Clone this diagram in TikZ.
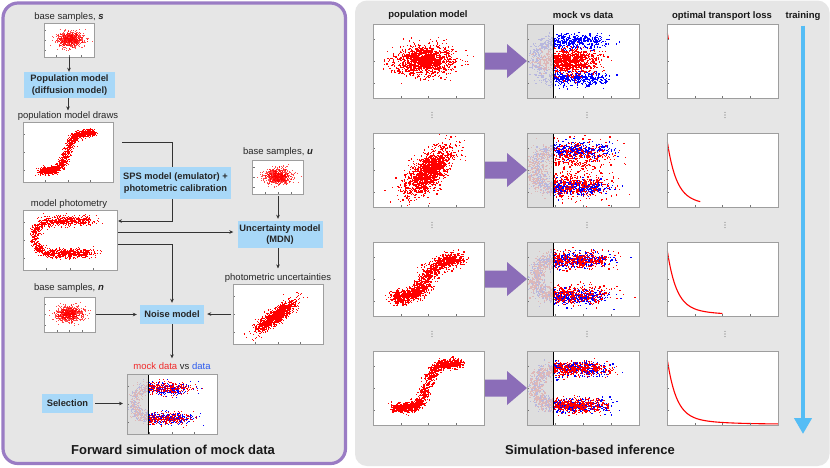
\documentclass[tikz,border=0pt]{standalone}
\usepackage{fontspec}
\setmainfont{Liberation Sans}
\usetikzlibrary{arrows.meta,calc}
\definecolor{panelgray}{HTML}{E6E6E6}
\definecolor{panelpurple}{HTML}{9A7CC4}
\definecolor{arrowpurple}{HTML}{8B6DB8}
\definecolor{boxblue}{HTML}{A8D8F8}
\definecolor{trainblue}{HTML}{55BDF5}
\definecolor{plotframe}{HTML}{9E9E9E}
\definecolor{ptred}{HTML}{FF0000}
\definecolor{ptblue}{HTML}{0000FF}
\definecolor{txtred}{HTML}{F02A2A}
\definecolor{txtblue}{HTML}{2B5BEF}
\definecolor{selgray}{HTML}{D9D9D9}
% ---------- random generators (set \myu, \myv in plot fractions, v downward)
\newcommand\setgauss[1]{\pgfmathsetmacro#1{sqrt(-2*ln(0.0008+0.9992*rnd))*cos(360*rnd)}}
\newcommand\genBlob[4]{%
  \setgauss\gA\setgauss\gB
  \pgfmathsetmacro\myu{#1+#3*\gA}%
  \pgfmathsetmacro\myv{#2+#4*\gB}}
\newcommand\genCorr[6]{%
  \setgauss\gA\setgauss\gB
  \pgfmathsetmacro\myu{#1+#3*\gA+#5*\gB}%
  \pgfmathsetmacro\myv{#2+#4*\gA+#6*\gB}}
\newcommand\genS[5]{%
  \setgauss\gA\setgauss\gB
  \pgfmathsetmacro\myt{rnd}%
  \pgfmathsetmacro\myu{0.2+0.58*\myt+#2*\gA}%
  \pgfmathsetmacro\myv{#4-(#4-#5)/(1+exp(-#1*(\myt-0.5)))+#3*\gB}}
\newcommand\genH[7]{%
  \setgauss\gA\setgauss\gB
  \pgfmathsetmacro\myr{rnd}%
  \pgfmathsetmacro\mysg{2*(rnd<0.5)-1}%
  \pgfmathsetmacro\myang{min(\myr/0.3,1)*90}%
  \pgfmathsetmacro\myu{#1+#2*(1-cos(\myang))+#5*max(\myr-0.3,0)/0.7+(#6)*(1+2*\myr)*\gA}%
  \pgfmathsetmacro\myv{#3+\mysg*#4*sin(\myang)+#7*\gB}}
% ---------- scatter into a plot node: chunks of 100 dots, one path per chunk
\newcommand\scat[7]{%
  \begin{scope}
    \clip (#1.south west) rectangle (#1.north east);
    \begin{scope}[shift={(#1.north west)},x=#2pt,y=-#3pt]
      \foreach \k in {1,...,#4}{%
        \draw[#5,line width=#6pt,line cap=rect] \foreach \i in {1,...,100}{\pgfextra{#7\global\let\gu\myu\global\let\gv\myv}
          (\gu,\gv) -- ++(0.02pt,0pt)};
      }
    \end{scope}
  \end{scope}}
\newcommand\plotticks[1]{%
  \foreach \f in {0.2,0.5,0.8}{\draw[tickc] ($(#1.north west)!\f!(#1.south west)$) -- ++(2,0);}
  \foreach \f in {0.25,0.5,0.75}{\draw[tickc] ($(#1.south west)!\f!(#1.south east)$) -- ++(0,-2);}}
\newcommand\frameit[1]{\draw[plotframe,line width=0.8pt] (#1.south west) rectangle (#1.north east);}
\newcommand\mockveil[1]{%
  \fill[selgray,opacity=0.85] (#1.north west) rectangle ($(#1.south west)!0.235!(#1.south east)$);
  \draw[black,line width=1.3pt] ($(#1.north west)!0.235!(#1.north east)$) -- ($(#1.south west)!0.235!(#1.south east)$);}
\newcommand\losscurve[2]{%
  \begin{scope}[shift={(#1.north west)},x=111pt,y=-74pt]
    \draw[ptred,line width=1.1pt] plot[domain=0.004:#2,samples=60,smooth] (\x,{0.09+0.78*(1-exp(-\x/0.08))+0.12*(1-exp(-\x/0.3))});
  \end{scope}}
\newcommand\vdotsmark[2]{%
  \foreach \dd in {-2.6,0,2.6}{\fill[black!60] (#1,#2+\dd) circle[radius=0.55pt];}}
\newcommand\mkrow[2]{%
  \node[plotbox,minimum width=111,minimum height=74] (pop#1) at (428.5,#2) {};
  \node[plotbox,minimum width=112,minimum height=74] (mock#1) at (583,#2) {};
  \node[plotbox,minimum width=111,minimum height=74] (loss#1) at (722.5,#2) {};
  \fill[arrowpurple] ($(pop#1.east)+(0,-8.5)$) -- ($(pop#1.east)+(23,-8.5)$) -- ($(pop#1.east)+(23,-17)$)
     -- (mock#1.west) -- ($(pop#1.east)+(23,17)$) -- ($(pop#1.east)+(23,8.5)$) -- ($(pop#1.east)+(0,8.5)$) -- cycle;}
\newcommand\finrow[1]{%
  \mockveil{mock#1}
  \plotticks{pop#1}\plotticks{mock#1}\plotticks{loss#1}
  \frameit{pop#1}\frameit{mock#1}\frameit{loss#1}}
\begin{document}
\begin{tikzpicture}[x=1pt,y=-1pt,
  plotbox/.style={draw=plotframe,line width=0.8pt,fill=white,inner sep=0pt,outer sep=0pt},
  procbox/.style={fill=boxblue,inner sep=0pt,align=center,font=\bfseries\fontsize{9.3}{11.5}\selectfont,text=black!85},
  lbl/.style={font=\fontsize{9.5}{11}\selectfont,inner sep=0pt,text=black!85},
  hdr/.style={font=\bfseries\fontsize{9.5}{11}\selectfont,inner sep=0pt,text=black!90},
  ttl/.style={font=\bfseries\fontsize{13}{15}\selectfont,inner sep=0pt,text=black!90},
  tickc/.style={draw=black!55,line width=0.4pt},
  conn/.style={line width=0.7pt,draw=black!80},
  arr/.style={conn,-{Stealth[length=4pt,width=3.6pt]}}]
\useasboundingbox (0,0) rectangle (830,467);
\fill[white] (0,0) rectangle (830,467);
% panels
\draw[panelpurple,line width=3.2pt,fill=panelgray,rounded corners=15pt] (3,3) rectangle (345.5,463.5);
\fill[panelgray,rounded corners=12pt] (355,0.5) rectangle (829.5,466);

% ================= LEFT PANEL =================
\node[lbl] (lps) at (69,17) {base samples, \textbf{\textit{s}}};
\node[plotbox,minimum width=50,minimum height=34] (ps) at (69,40) {};
\node[procbox,minimum width=91,minimum height=26] (popm) at (69.5,85) {Population model\\(diffusion model)};
\node[lbl] (lpd) at (68,116) {population model draws};
\node[plotbox,minimum width=90,minimum height=60] (pd) at (68,152) {};
\node[procbox,minimum width=111,minimum height=32] (sps) at (175.5,183) {SPS model (emulator) +\\photometric calibration};
\node[lbl] (lmp) at (69,204) {model photometry};
\node[plotbox,minimum width=94,minimum height=60] (mp) at (70,240) {};
\node[lbl] (lpu) at (278,152) {base samples, \textbf{\textit{u}}};
\node[plotbox,minimum width=51,minimum height=34] (pu) at (278,177) {};
\node[procbox,minimum width=85,minimum height=27] (unc) at (280,234.5) {Uncertainty model\\(MDN)};
\node[lbl] (lpunc) at (278,278) {photometric uncertainties};
\node[plotbox,minimum width=90,minimum height=60] (punc) at (278,314) {};
\node[lbl] (lpn) at (69,288) {base samples, \textbf{\textit{n}}};
\node[plotbox,minimum width=51,minimum height=35] (pn) at (69.5,314.5) {};
\node[procbox,minimum width=64,minimum height=19] (noise) at (172,314.5) {Noise model};
\node[lbl] (lmock) at (172,366) {\textcolor{txtred}{mock data} vs \textcolor{txtblue}{data}};
\node[plotbox,minimum width=90,minimum height=60] (pm) at (172,404) {};
\node[procbox,minimum width=51,minimum height=19] (sel) at (67.5,403.5) {Selection};
\node[ttl] (t1) at (173,450) {Forward simulation of mock data};

% scatter, left
\scat{ps}{50}{34}{8}{ptred,opacity=0.7}{0.72}{\genBlob{0.52}{0.48}{0.13}{0.11}}
\scat{pu}{51}{34}{8}{ptred,opacity=0.7}{0.72}{\genBlob{0.5}{0.48}{0.13}{0.11}}
\scat{pn}{51}{35}{8}{ptred,opacity=0.7}{0.72}{\genBlob{0.5}{0.48}{0.13}{0.11}}
\scat{pd}{90}{60}{15}{ptred}{0.84}{\genS{14}{0.026}{0.03}{0.82}{0.18}}
\scat{mp}{94}{60}{15}{ptred}{0.84}{\genH{0.12}{0.16}{0.45}{0.27}{0.42}{0.02}{0.04}}
\scat{punc}{90}{60}{14}{ptred}{0.84}{\genCorr{0.48}{0.53}{0.1}{-0.12}{0.035}{0.03}}
\scat{pm}{90}{60}{8}{ptblue}{0.96}{\genH{0.08}{0.16}{0.49}{0.25}{0.42}{0.03}{0.05}}
\scat{pm}{90}{60}{8}{ptred}{0.96}{\genH{0.08}{0.16}{0.49}{0.25}{0.42}{0.03}{0.05}}
\mockveil{pm}
\foreach \nn in {ps,pu,pn,pd,mp,punc,pm}{\plotticks{\nn}\frameit{\nn}}

% connectors, left
\draw[arr] (ps.south) -- (ps.south |- popm.north);
\draw[arr,shorten >=1pt] (popm.south -| lpd.north) -- (lpd.north);
\coordinate (c1) at ($(pd.east)+(9,-10)$);
\draw[conn] (c1) -| (sps.north -| noise.north);
\coordinate (c2) at ($(mp.east)+(1,-19)$);
\draw[arr] (sps.south -| noise.north) |- (c2);
\coordinate (c3) at ($(mp.east)+(1,-8)$);
\draw[arr,shorten >=4pt] (c3) -- (c3 -| unc.west);
\coordinate (c4) at ($(mp.east)+(1,4)$);
\draw[arr,shorten >=2pt] (c4) -| (noise.north);
\draw[arr,shorten <=2pt,shorten >=2pt] (pu.south) -- (pu.south |- unc.north);
\draw[arr,shorten >=5pt] (unc.south -| lpunc.north) -- (lpunc.north);
\draw[arr,shorten <=1pt,shorten >=3pt] (pn.east) -- (pn.east -| noise.west);
\draw[arr,shorten <=2pt,shorten >=3pt] (punc.west) -- (punc.west -| noise.east);
\draw[arr,shorten >=4pt] (noise.south) -- (lmock.north);
\draw[arr,shorten <=2pt,shorten >=4pt] (sel.east) -- (sel.east -| pm.west);

% ================= RIGHT PANEL =================
\node[hdr] (h1) at (428,15) {population model};
\node[hdr] (h2) at (583,15) {mock vs data};
\node[hdr] (h3) at (722,16) {optimal transport loss};
\node[hdr] (h4) at (803,16) {training};

\mkrow{1}{61}
\mkrow{2}{170}
\mkrow{3}{279}
\mkrow{4}{388}

% row 1
\scat{pop1}{111}{74}{13}{ptred}{1.24}{\genBlob{0.47}{0.5}{0.13}{0.1}}
\scat{mock1}{112}{74}{10}{ptblue}{1.24}{\genH{0.08}{0.16}{0.49}{0.25}{0.42}{0.03}{0.05}}
\scat{mock1}{112}{74}{10}{ptred}{1.24}{\genBlob{0.37}{0.5}{0.14}{0.08}}
\losscurve{loss1}{0.012}
% row 2
\scat{pop2}{111}{74}{13}{ptred}{1.24}{\genCorr{0.5}{0.52}{0.085}{-0.16}{0.065}{0.035}}
\scat{mock2}{112}{74}{10}{ptblue}{1.24}{\genH{0.08}{0.16}{0.49}{0.25}{0.42}{0.03}{0.05}}
\scat{mock2}{112}{74}{10}{ptred}{1.24}{\genH{0.05}{0.2}{0.5}{0.2}{0.42}{0.04}{0.1}}
\losscurve{loss2}{0.3}
% row 3
\scat{pop3}{111}{74}{13}{ptred}{1.24}{\genS{10}{0.042}{0.047}{0.76}{0.22}}
\scat{mock3}{112}{74}{10}{ptblue}{1.24}{\genH{0.08}{0.16}{0.49}{0.25}{0.42}{0.03}{0.05}}
\scat{mock3}{112}{74}{10}{ptred}{1.24}{\genH{0.08}{0.16}{0.48}{0.23}{0.42}{0.035}{0.062}}
\losscurve{loss3}{0.5}
% row 4
\scat{pop4}{111}{74}{13}{ptred}{1.24}{\genS{16}{0.028}{0.03}{0.77}{0.17}}
\scat{mock4}{112}{74}{10}{ptblue}{1.24}{\genH{0.08}{0.16}{0.49}{0.25}{0.42}{0.03}{0.05}}
\scat{mock4}{112}{74}{10}{ptred}{1.24}{\genH{0.08}{0.16}{0.49}{0.245}{0.42}{0.03}{0.05}}
\losscurve{loss4}{1}

\finrow{1}\finrow{2}\finrow{3}\finrow{4}

% vertical dots
\foreach \yy in {115,225,334}{
  \vdotsmark{432}{\yy}
  \vdotsmark{587}{\yy}
  \vdotsmark{725}{\yy}
}

% training arrow
\coordinate (tbot) at (803,434);
\draw[trainblue,line width=4pt,-{Triangle[length=16pt,width=17pt]}] ([yshift=-5pt]h4.south) -- (tbot);

\node[ttl] (t2) at (590,450) {Simulation-based inference};
\end{tikzpicture}
\end{document}
